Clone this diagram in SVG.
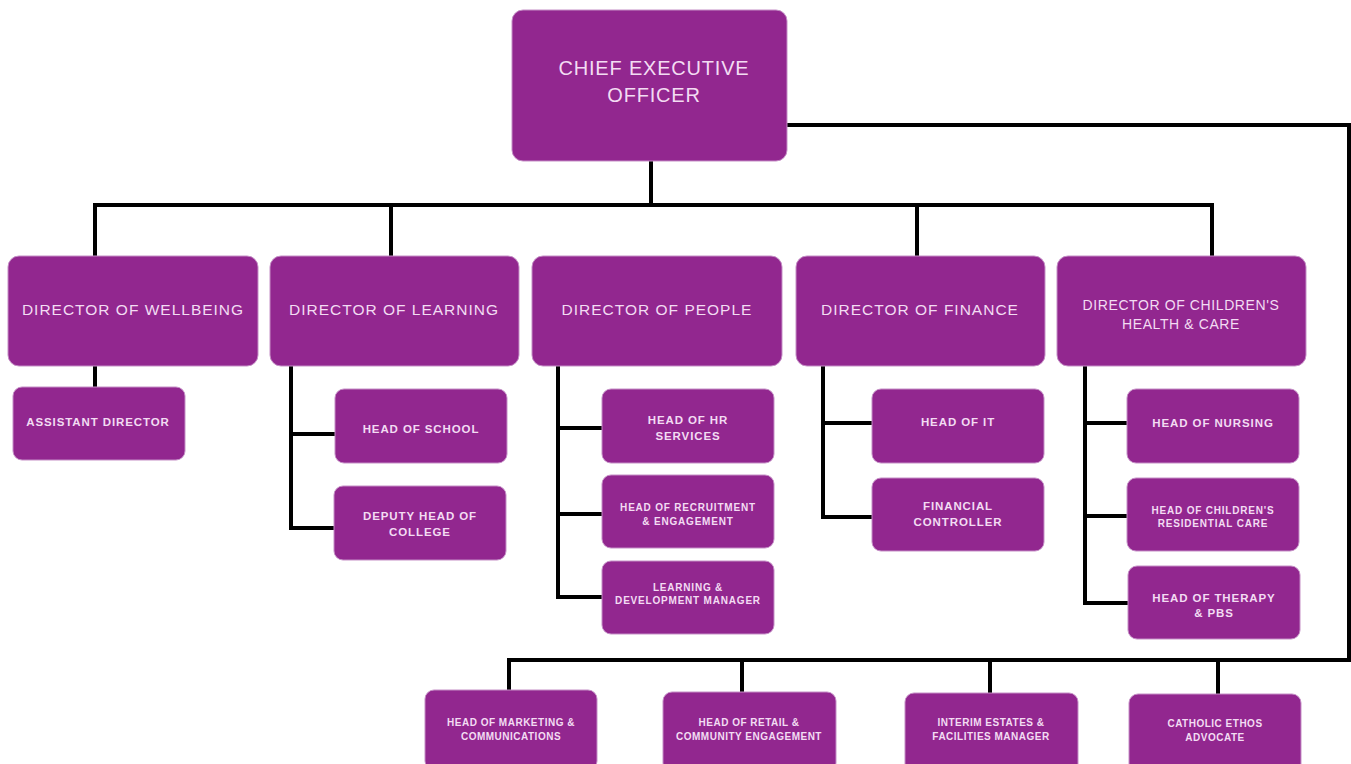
<svg xmlns="http://www.w3.org/2000/svg" width="1351" height="764" viewBox="0 0 1351 764">
<style>
.box{fill:#92278f;stroke:#c58fc6;stroke-width:1}
.t{font-family:"Liberation Sans",Arial,sans-serif;fill:#f3dcf3;text-anchor:middle;dominant-baseline:central}
.ceo{font-size:20px;letter-spacing:0.8px}
.dir{font-size:15.5px;letter-spacing:1.0px}
.dir2{font-size:14px;letter-spacing:0.6px}
.h{font-size:11.5px;font-weight:bold;letter-spacing:0.9px}
.hs{font-size:10px;font-weight:bold;letter-spacing:0.8px}
.b{font-size:10px;font-weight:bold;letter-spacing:0.5px}
.ln{fill:none;stroke:#000;stroke-width:4;stroke-linejoin:miter;stroke-linecap:square}
</style>
<rect width="1351" height="764" fill="#fff"/>
<g id="connectors">
<path class="ln" d="M651 161V205M95 256V205H1212V256M391 205V256M917 205V256"/>
<path class="ln" d="M788 125H1349V660H509V690M742 660V692M990 660V693M1218 660V694"/>
<path class="ln" d="M95 366V387"/>
<path class="ln" d="M291 366V528H335M291 434H335"/>
<path class="ln" d="M558 366V597H602M558 428H602M558 514H602"/>
<path class="ln" d="M823 366V517H872M823 423H872"/>
<path class="ln" d="M1085 366V603H1127M1085 423H1127M1085 516H1127"/>
</g>
<g id="ceo"><rect class="box" x="512" y="10" width="275" height="151" rx="11"/><text class="t ceo" x="654" y="68">CHIEF EXECUTIVE</text><text class="t ceo" x="654" y="95">OFFICER</text></g>
<g id="dir-wellbeing"><rect class="box" x="8" y="256" width="250" height="110" rx="11"/><text class="t dir" x="133" y="309">DIRECTOR OF WELLBEING</text></g>
<g id="dir-learning"><rect class="box" x="270" y="256" width="249" height="110" rx="11"/><text class="t dir" x="394" y="309">DIRECTOR OF LEARNING</text></g>
<g id="dir-people"><rect class="box" x="532" y="256" width="250" height="110" rx="11"/><text class="t dir" x="657" y="309">DIRECTOR OF PEOPLE</text></g>
<g id="dir-finance"><rect class="box" x="796" y="256" width="249" height="110" rx="11"/><text class="t dir" x="920" y="309">DIRECTOR OF FINANCE</text></g>
<g id="dir-children"><rect class="box" x="1057" y="256" width="249" height="110" rx="11"/><text class="t dir2" x="1181" y="305">DIRECTOR OF CHILDREN'S</text><text class="t dir2" x="1181" y="324">HEALTH &amp; CARE</text></g>
<g id="assistant-director"><rect class="box" x="13" y="387" width="172" height="73" rx="9"/><text class="t h" x="98" y="422">ASSISTANT DIRECTOR</text></g>
<g id="head-school"><rect class="box" x="335" y="389" width="172" height="74" rx="9"/><text class="t h" x="421" y="429">HEAD OF SCHOOL</text></g>
<g id="deputy-head"><rect class="box" x="334" y="486" width="172" height="74" rx="9"/><text class="t h" x="420" y="516">DEPUTY HEAD OF</text><text class="t h" x="420" y="532">COLLEGE</text></g>
<g id="head-hr"><rect class="box" x="602" y="389" width="172" height="74" rx="9"/><text class="t h" x="688" y="420">HEAD OF HR</text><text class="t h" x="688" y="436">SERVICES</text></g>
<g id="head-recruitment"><rect class="box" x="602" y="475" width="172" height="73" rx="9"/><text class="t hs" x="688" y="507">HEAD OF RECRUITMENT</text><text class="t hs" x="688" y="521">&amp; ENGAGEMENT</text></g>
<g id="ld-manager"><rect class="box" x="602" y="561" width="172" height="73" rx="9"/><text class="t hs" x="688" y="587">LEARNING &amp;</text><text class="t hs" x="688" y="600">DEVELOPMENT MANAGER</text></g>
<g id="head-it"><rect class="box" x="872" y="389" width="172" height="74" rx="9"/><text class="t h" x="958" y="422">HEAD OF IT</text></g>
<g id="financial-controller"><rect class="box" x="872" y="478" width="172" height="73" rx="9"/><text class="t h" x="958" y="506">FINANCIAL</text><text class="t h" x="958" y="522">CONTROLLER</text></g>
<g id="head-nursing"><rect class="box" x="1127" y="389" width="172" height="74" rx="9"/><text class="t h" x="1213" y="423">HEAD OF NURSING</text></g>
<g id="head-residential"><rect class="box" x="1127" y="478" width="172" height="73" rx="9"/><text class="t hs" x="1213" y="510">HEAD OF CHILDREN'S</text><text class="t hs" x="1213" y="523">RESIDENTIAL CARE</text></g>
<g id="head-therapy"><rect class="box" x="1128" y="566" width="172" height="73" rx="9"/><text class="t h" x="1214" y="598">HEAD OF THERAPY</text><text class="t h" x="1214" y="613">&amp; PBS</text></g>
<g id="head-marketing"><rect class="box" x="425" y="690" width="172" height="80" rx="9"/><text class="t b" x="511" y="722">HEAD OF MARKETING &amp;</text><text class="t b" x="511" y="736">COMMUNICATIONS</text></g>
<g id="head-retail"><rect class="box" x="663" y="692" width="173" height="80" rx="9"/><text class="t b" x="749" y="722">HEAD OF RETAIL &amp;</text><text class="t b" x="749" y="736">COMMUNITY ENGAGEMENT</text></g>
<g id="estates-manager"><rect class="box" x="905" y="693" width="173" height="80" rx="9"/><text class="t b" x="991" y="722">INTERIM ESTATES &amp;</text><text class="t b" x="991" y="736">FACILITIES MANAGER</text></g>
<g id="catholic-ethos"><rect class="box" x="1129" y="694" width="172" height="80" rx="9"/><text class="t b" x="1215" y="723">CATHOLIC ETHOS</text><text class="t b" x="1215" y="737">ADVOCATE</text></g>
</svg>
